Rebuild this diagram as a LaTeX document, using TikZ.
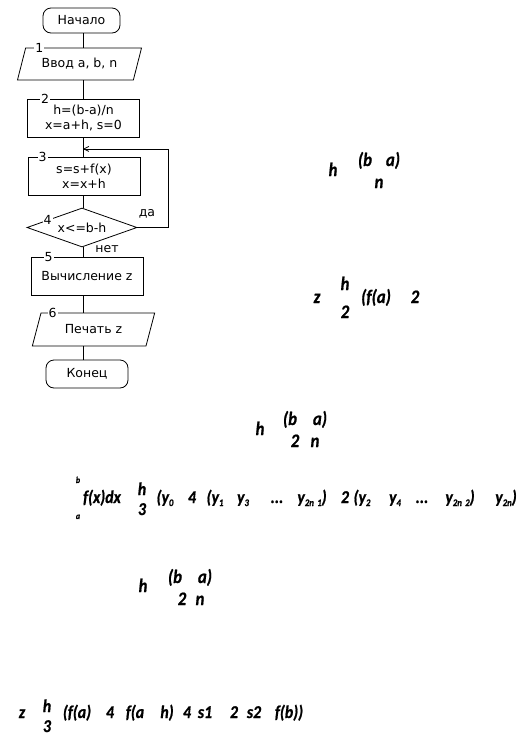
\documentclass[tikz,border=0pt]{standalone}
\usepackage{fontspec}
\setmainfont{DejaVu Sans}
\newfontfamily\frmfont{Carlito}[FakeStretch=0.88,FakeBold=0.8]
\usetikzlibrary{shapes.geometric,arrows.meta,calc}

\newcommand{\ysub}[1]{y\raisebox{-3pt}{\fontsize{10}{10}\selectfont #1}}

\begin{document}
\begin{tikzpicture}[x=1pt,y=-1pt,line width=0.8pt,
	every node/.style={font=\fontsize{12.5}{15}\selectfont},
	term/.style={draw,rounded corners=8pt,inner sep=0pt},
	box/.style={draw,minimum width=112pt,minimum height=38pt,inner sep=0pt,align=center},
	io/.style={draw,trapezium,trapezium left angle=63,trapezium right angle=117,
		trapezium stretches=true,minimum width=125pt,minimum height=32pt,inner sep=0pt},
	cond/.style={draw,diamond,shape aspect=2.8,minimum width=110pt,minimum height=39pt,inner sep=0pt},
	num/.style={fill=white,inner sep=1pt},
	frm/.style={font=\frmfont\bfseries\itshape\fontsize{19}{19}\selectfont,anchor=base,inner sep=0pt},
	frmb/.style={frm,font=\frmfont\bfseries\itshape\fontsize{18}{18}\selectfont},
	frmsm/.style={font=\frmfont\bfseries\itshape\fontsize{9}{9}\selectfont,anchor=base,inner sep=0pt}]
	\useasboundingbox (0,0) rectangle (525,737);
	\coordinate (axis) at (83,0);

	% flowchart
	\node[term,minimum width=77pt,minimum height=25pt] (start) at (81.5,20.5) {Начало};
	\node[io] (in1) at (79.5,64) {Ввод a, b, n};
	\node[box] (calc2) at (83.5,118) {h=(b-a)/n\\x=a+h, s=0};
	\node[box] (calc3) at (84,176) {s=s+f(x)\\x=x+h};
	\node[cond] (dec) at (82,227.5) {x<=b-h};
	\node[box] (calc5) at (87,276) {Вычисление z};
	\node[io,minimum width=123pt,minimum height=33pt] (out6) at (93.5,329.5) {Печать z};
	\node[term,minimum width=82pt,minimum height=28pt] (stop) at (87,374) {Конец};

	\node[num] at ([xshift=14pt]in1.top left corner) {1};
	\node[num] at ([xshift=18pt]calc2.north west) {2};
	\node[num] at ([xshift=15pt]calc3.north west) {3};
	\node[num] at ($(dec.west)!0.38!(dec.north)$) {4};
	\node[num] at ([xshift=18pt]calc5.north west) {5};
	\node[num] at ([xshift=12pt]out6.top left corner) {6};

	\draw (start.south -| axis) -- (in1.north -| axis);
	\draw (in1.south -| axis) -- (calc2.north -| axis);
	\draw (calc2.south -| axis) -- (calc3.north -| axis);
	\draw (calc3.south -| axis) -- (dec.north -| axis);
	\draw (dec.south -| axis) -- (calc5.north -| axis);
	\draw (calc5.south -| axis) -- (out6.north -| axis);
	\draw (out6.south -| axis) -- (stop.north -| axis);

	\coordinate (join) at ($(calc2.south -| axis)!0.6!(calc3.north -| axis)$);
	\draw[-{Straight Barb[length=5pt,width=5pt]}] (dec.east) -- ++(31,0) |- (join);
	\node (yes) at (147,214) {да};
	\node (no) at (107,249) {нет};

	% formulas
	\node[frm] at (333,176) {h};
	\node[frm] at (365,166) {(b};
	\node[frm] at (393,166) {a)};
	\node[frm] at (379,188) {n};

	\node[frm] at (317,303) {z};
	\node[frm] at (345,290) {h};
	\node[frm] at (345,318) {2};
	\node[frm] at (376,303) {(f(a)};
	\node[frm] at (415,303) {2};

	\node[frm] at (260,435) {h};
	\node[frm] at (290,425) {(b};
	\node[frm] at (320,425) {a)};
	\node[frm] at (295,447) {2};
	\node[frm] at (315,447) {n};

	\node[frmsm] at (78,483) {b};
	\node[frmsm] at (78,519) {a};
	\node[frmb] at (102,503) {f(x)dx};
	\node[frmb] at (142,495) {h};
	\node[frmb] at (142,515) {3};
	\node[frmb] at (165,503) {(\ysub{0}};
	\node[frmb] at (192,503) {4};
	\node[frmb] at (215,503) {(\ysub{1}};
	\node[frmb] at (243,503) {\ysub{3}};
	\node[frmb] at (277,503) {...};
	\node[frmb] at (312,503) {\ysub{2n\,\,1})};
	\node[frmb] at (345,503) {2};
	\node[frmb] at (362,503) {(\ysub{2}};
	\node[frmb] at (395,503) {\ysub{4}};
	\node[frmb] at (422,503) {...};
	\node[frmb] at (460,503) {\ysub{2n\,\,2})};
	\node[frmb] at (506,503) {\ysub{2n})};

	\node[frm] at (143,592) {h};
	\node[frm] at (175,583) {(b};
	\node[frm] at (205,583) {a)};
	\node[frm] at (182,605) {2};
	\node[frm] at (200,605) {n};

	\node[frmb] at (22,718) {z};
	\node[frmb] at (47,712) {h};
	\node[frmb] at (47,732) {3};
	\node[frmb] at (77,718) {(f(a)};
	\node[frmb] at (110,718) {4};
	\node[frmb] at (135,718) {f(a};
	\node[frmb] at (167,718) {h)};
	\node[frmb] at (187,718) {4};
	\node[frmb] at (205,718) {s1};
	\node[frmb] at (234,718) {2};
	\node[frmb] at (254,718) {s2};
	\node[frmb] at (289,718) {f(b))};
\end{tikzpicture}
\end{document}
